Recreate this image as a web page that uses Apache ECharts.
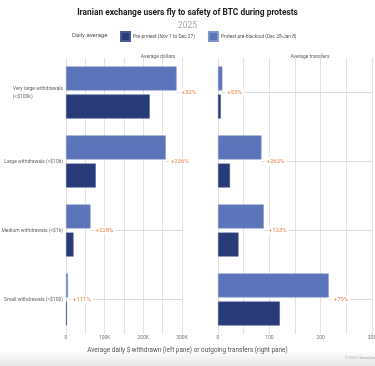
<!DOCTYPE html>
<html><head><meta charset="utf-8">
<script src="https://cdn.jsdelivr.net/npm/echarts@6/dist/echarts.min.js"></script>
<style>html,body{margin:0;padding:0;background:#fff}#c{width:375px;height:366px}</style>
</head><body><div id="c"></div>
<script>
const categories = ['Very large withdrawals\n(<$100k)', 'Large withdrawals (<$10k)', 'Medium withdrawals (<$1k)', 'Small withdrawals (<$100)'];
const seriesNames = ['Pre-protest (Nov 1 to Dec 27)', 'Protest pre-blackout (Dec 28-Jan 8)'];
const dollarsPre = [216600, 77000, 19500, 2400];
const dollarsProtest = [286000, 258000, 63500, 5100];
const transfersPre = [5.5, 23.4, 40, 120.5];
const transfersProtest = [8.5, 84.7, 89.2, 215.7];
const dollarsChange = ['+32%', '+236%', '+228%', '+111%'];
const transfersChange = ['+55%', '+262%', '+123%', '+79%'];
const dollarTicks = [0, 100000, 200000, 300000];
const transferTicks = [0, 100, 200, 300];

const FONT = 'Roboto, "Noto Sans", sans-serif';
const C_PRE = '#283a78', C_PRO = '#5b73b9', C_ORANGE = '#e8834f';

function proSeries(name, xi, vals, chg) {
  return {
    name: name, type: 'bar', xAxisIndex: xi, yAxisIndex: xi, data: vals,
    barWidth: 24, barGap: '17%',
    itemStyle: {color: C_PRO, borderColor: '#8193cc', borderWidth: 0.6},
    label: {show: true, position: 'right', distance: 3, offset: [0, 14],
      formatter: p => chg[p.dataIndex], color: C_ORANGE, fontSize: 6, fontFamily: FONT,
      backgroundColor: '#fff', padding: [1, 2]},
    z: 3
  };
}
function preSeries(name, xi, vals) {
  return {
    name: name, type: 'bar', xAxisIndex: xi, yAxisIndex: xi, data: vals,
    barWidth: 24, barGap: '17%',
    itemStyle: {color: C_PRE, borderColor: '#4a5a92', borderWidth: 0.6}, z: 3
  };
}
function guideSeries(xi, vals, max) {
  return {
    type: 'custom', xAxisIndex: xi, yAxisIndex: xi, silent: true, z: 1,
    data: vals.map((v, i) => [v, max, i]),
    encode: {x: [0, 1], y: 2},
    renderItem: (params, api) => {
      const a = api.coord([api.value(0), api.value(2)]);
      const b = api.coord([api.value(1), api.value(2)]);
      return {type: 'line', shape: {x1: a[0], y1: a[1], x2: b[0], y2: b[1]},
        style: {stroke: '#dcdcdc', lineWidth: 1}};
    }
  };
}
function xAx(gi, max, interval, ticks, fmt) {
  return {
    type: 'value', gridIndex: gi, min: 0, max: max, interval: interval,
    axisLine: {show: false}, axisTick: {show: false},
    splitLine: {show: true, lineStyle: {color: '#e3e3e3', width: 1}},
    axisLabel: {fontSize: 5, color: '#777', fontFamily: FONT, margin: 1,
      formatter: v => ticks.indexOf(v) >= 0 ? fmt(v) : ''}
  };
}
const chart = echarts.init(document.getElementById('c'), null, {renderer: 'canvas'});
chart.setOption({
  backgroundColor: '#fff',
  animation: false,
  textStyle: {fontFamily: FONT},
  title: [
    {text: 'Iranian exchange users fly to safety of BTC during protests', left: 'center', top: 4,
      textStyle: {fontSize: 8.4, fontWeight: 'bold', color: '#222', fontFamily: FONT}},
    {text: '2025', left: 'center', top: 16, textStyle: {fontSize: 8.5, fontWeight: 'normal', color: '#aaa', fontFamily: FONT}},
    {text: 'Average dollars', left: 153, top: 49, textAlign: 'center', textStyle: {fontSize: 5, fontWeight: 'normal', color: '#666', fontFamily: FONT}},
    {text: 'Average transfers', left: 305, top: 49, textAlign: 'center', textStyle: {fontSize: 5, fontWeight: 'normal', color: '#666', fontFamily: FONT}}
  ],
  legend: {
    data: seriesNames, left: 120, top: 31, padding: 0, itemWidth: 9, itemHeight: 9, itemGap: 13,
    icon: 'rect', textStyle: {fontSize: 4.8, color: '#555', fontFamily: FONT, padding: [0, 0, 0, -2]}
  },
  grid: [
    {left: 66, right: 193, top: 58, bottom: 32, outerBoundsMode: 'none'},
    {left: 218, right: 3, top: 58, bottom: 32, outerBoundsMode: 'none'}
  ],
  xAxis: [
    xAx(0, 300000, 50000, dollarTicks, v => v === 0 ? '0' : (v / 1000) + 'K'),
    xAx(1, 300, 50, transferTicks, v => String(v))
  ],
  yAxis: [
    {type: 'category', gridIndex: 0, data: categories, inverse: true,
      axisLine: {show: false}, axisTick: {show: false}, splitLine: {show: false},
      axisLabel: {fontSize: 5, color: '#666', fontFamily: FONT, margin: 3, align: 'right', lineHeight: 7.5,
        formatter: v => v.indexOf('\n') >= 0 ? v.split('\n').map(s => '{l|' + s + '}').join('\n') : v,
        rich: {l: {align: 'left', fontSize: 5, color: '#666', fontFamily: FONT, lineHeight: 7.5}}}},
    {type: 'category', gridIndex: 1, data: categories, inverse: true,
      axisLine: {show: false}, axisTick: {show: false}, splitLine: {show: false}, axisLabel: {show: false}}
  ],
  graphic: [
    {type: 'rect', left: 0, top: 350, z: -10, shape: {width: 375, height: 16},
      style: {fill: new echarts.graphic.LinearGradient(0, 0, 0, 1, [{offset: 0, color: 'rgba(235,235,235,0)'}, {offset: 1, color: 'rgba(228,228,228,1)'}])}},
    {type: 'text', left: 72, top: 32, style: {text: 'Daily average', fontSize: 6, fill: '#555', fontFamily: FONT}},
    {type: 'text', left: 'center', top: 347, style: {text: 'Average daily $ withdrawn (left pane) or outgoing transfers (right pane)', fontSize: 6.4, fill: '#555', fontFamily: FONT}},
    {type: 'text', left: 345, top: 356, style: {text: '\u00a9 2026 Chainalysis', fontSize: 3.5, fill: '#aaa', fontFamily: FONT}}
  ],
  series: [
    guideSeries(0, dollarsProtest, 300000),
    guideSeries(1, transfersProtest, 300),
    proSeries(seriesNames[1], 0, dollarsProtest, dollarsChange),
    preSeries(seriesNames[0], 0, dollarsPre),
    proSeries(seriesNames[1], 1, transfersProtest, transfersChange),
    preSeries(seriesNames[0], 1, transfersPre)
  ]
});
</script></body></html>
